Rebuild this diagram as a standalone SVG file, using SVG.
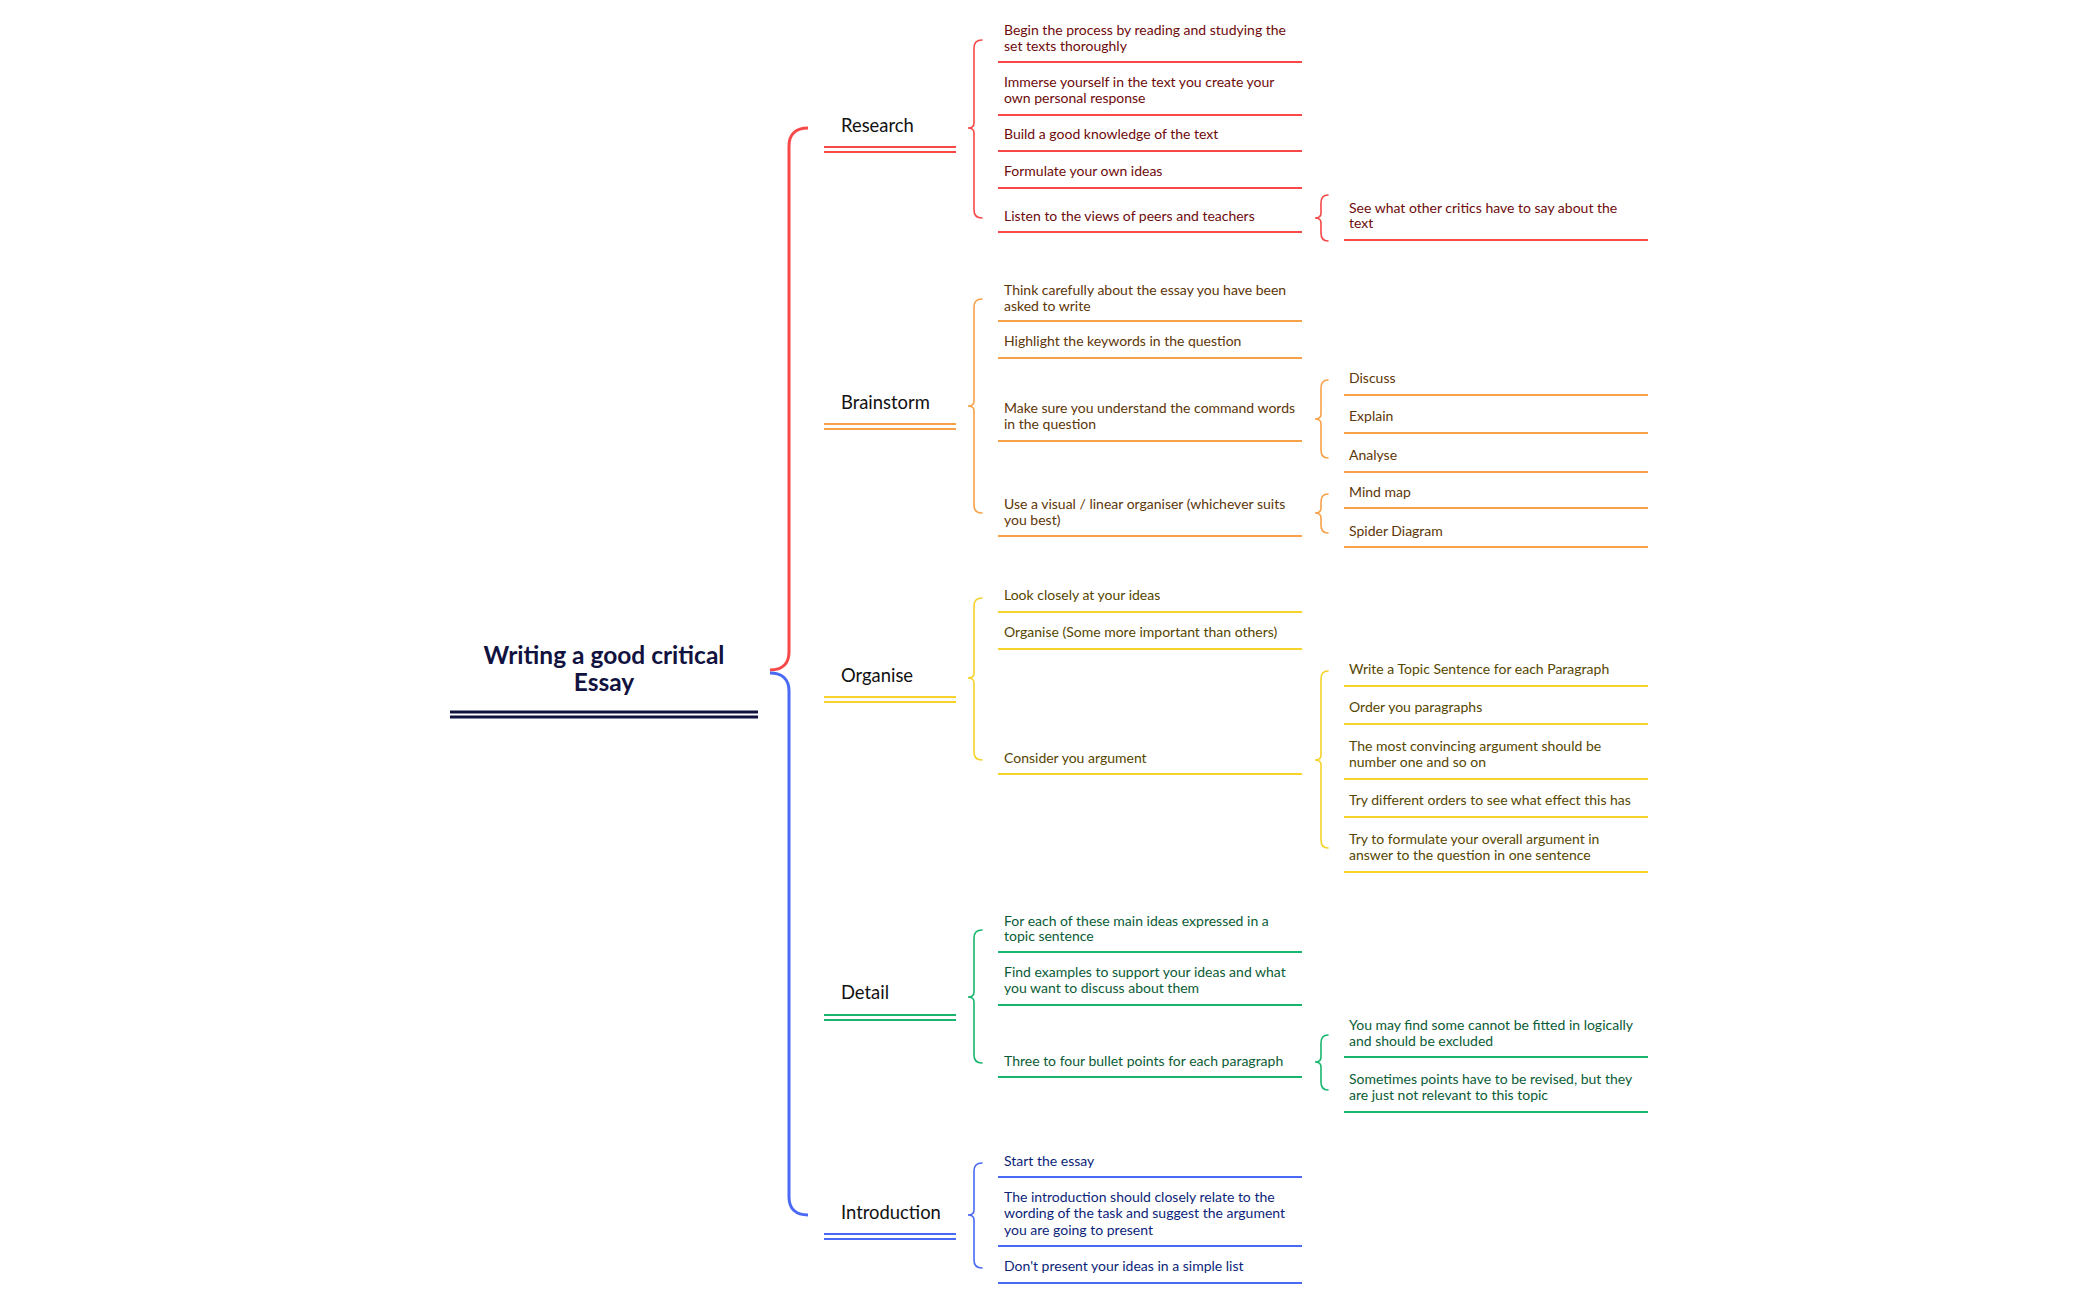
<svg xmlns="http://www.w3.org/2000/svg" width="2099" height="1300" viewBox="0 0 2099 1300">
<style>
text{font-family:Lato,"Liberation Sans",sans-serif;dominant-baseline:central}
.t2{font-size:14px;transform:translate(0,-1.5px)}
.t1{font-size:18.4px;fill:#111;transform:translate(0,-1px)}
.title{font-size:24.5px;font-weight:bold;fill:#121240;text-anchor:middle;transform:translate(0,-1.5px)}
.br{fill:none;stroke-width:1.6;stroke-linecap:round}
.ln{stroke-width:2.2}
.r .ln,.br.r{stroke:#f84848}.r text{fill:#6e0b0b}
.o .ln,.br.o{stroke:#f7a24a}.o text{fill:#5e3608}
.y .ln,.br.y{stroke:#f6d32a}.y text{fill:#564600}
.g .ln,.br.g{stroke:#18b56f}.g text{fill:#0a5c36}
.b .ln,.br.b{stroke:#4a6af5}.b text{fill:#0c1f7a}
.l1 text{fill:#111}
</style>
<g id="connectors">
<path d="M770 670 C782 670 789 664 789 652 L789 146 C789 134 796 128 808 128" fill="none" stroke="#f84848" stroke-width="3"/>
<path d="M770 673 C782 673 789 679 789 691 L789 1197 C789 1209 796 1215 808 1215" fill="none" stroke="#4a6af5" stroke-width="3"/>
<path class="br r" d="M982 40 C977 40 974 43 974 48 L974 123 C974 126 972 128 968 128 C972 128 974 130 974 133 L974 210 C974 215 977 218 982 218"/>
<path class="br o" d="M982 299 C977 299 974 302 974 307 L974 401 C974 404 972 406 968 406 C972 406 974 408 974 411 L974 505 C974 510 977 513 982 513"/>
<path class="br y" d="M982 598 C977 598 974 601 974 606 L974 673 C974 676 972 678 968 678 C972 678 974 680 974 683 L974 752 C974 757 977 760 982 760"/>
<path class="br g" d="M982 930 C977 930 974 933 974 938 L974 992 C974 995 972 997 968 997 C972 997 974 999 974 1002 L974 1055 C974 1060 977 1063 982 1063"/>
<path class="br b" d="M982 1163 C977 1163 974 1166 974 1171 L974 1210 C974 1213 972 1215 968 1215 C972 1215 974 1217 974 1220 L974 1260 C974 1265 977 1268 982 1268"/>
<path class="br r" d="M1328 195 C1323 195 1321 198 1321 203 L1321 213 C1321 216 1319 218 1315 218 C1319 218 1321 220 1321 223 L1321 233 C1321 238 1323 241 1328 241"/>
<path class="br o" d="M1328 380 C1323 380 1321 383 1321 388 L1321 414 C1321 417 1319 419 1315 419 C1319 419 1321 421 1321 424 L1321 450 C1321 455 1323 458 1328 458"/>
<path class="br o" d="M1328 494 C1323 494 1321 497 1321 502 L1321 508 C1321 511 1319 513 1315 513 C1319 513 1321 515 1321 518 L1321 525 C1321 530 1323 533 1328 533"/>
<path class="br y" d="M1328 671 C1323 671 1321 674 1321 679 L1321 755 C1321 758 1319 760 1315 760 C1319 760 1321 762 1321 765 L1321 840 C1321 845 1323 848 1328 848"/>
<path class="br g" d="M1328 1035 C1323 1035 1321 1038 1321 1043 L1321 1057 C1321 1060 1319 1062 1315 1062 C1319 1062 1321 1064 1321 1067 L1321 1082 C1321 1087 1323 1090 1328 1090"/>
</g>
<g id="title">
<text class="title" x="604" y="656">Writing a good critical</text>
<text class="title" x="604" y="683">Essay</text>
<line x1="450" y1="712" x2="758" y2="712" stroke="#121240" stroke-width="3"/>
<line x1="450" y1="717" x2="758" y2="717" stroke="#121240" stroke-width="3"/>
</g>
<g id="research" class="r l1"><text class="t1" x="841" y="126">Research</text><line class="ln" x1="824" y1="147" x2="956" y2="147"/><line class="ln" x1="824" y1="152" x2="956" y2="152"/></g>
<g id="brainstorm" class="o l1"><text class="t1" x="841" y="403">Brainstorm</text><line class="ln" x1="824" y1="424" x2="956" y2="424"/><line class="ln" x1="824" y1="429" x2="956" y2="429"/></g>
<g id="organise" class="y l1"><text class="t1" x="841" y="676">Organise</text><line class="ln" x1="824" y1="697" x2="956" y2="697"/><line class="ln" x1="824" y1="702" x2="956" y2="702"/></g>
<g id="detail" class="g l1"><text class="t1" x="841" y="993">Detail</text><line class="ln" x1="824" y1="1015" x2="956" y2="1015"/><line class="ln" x1="824" y1="1020" x2="956" y2="1020"/></g>
<g id="introduction" class="b l1"><text class="t1" x="841" y="1213">Introduction</text><line class="ln" x1="824" y1="1234" x2="956" y2="1234"/><line class="ln" x1="824" y1="1239" x2="956" y2="1239"/></g>

<g id="r1" class="r"><text class="t2" x="1004" y="31">Begin the process by reading and studying the</text><text class="t2" x="1004" y="47">set texts thoroughly</text><line class="ln" x1="998" y1="62" x2="1302" y2="62"/></g>
<g id="r2" class="r"><text class="t2" x="1004" y="83">Immerse yourself in the text you create your</text><text class="t2" x="1004" y="99">own personal response</text><line class="ln" x1="998" y1="115" x2="1302" y2="115"/></g>
<g id="r3" class="r"><text class="t2" x="1004" y="135">Build a good knowledge of the text</text><line class="ln" x1="998" y1="151" x2="1302" y2="151"/></g>
<g id="r4" class="r"><text class="t2" x="1004" y="172">Formulate your own ideas</text><line class="ln" x1="998" y1="188" x2="1302" y2="188"/></g>
<g id="r5" class="r"><text class="t2" x="1004" y="217">Listen to the views of peers and teachers</text><line class="ln" x1="998" y1="232" x2="1302" y2="232"/></g>
<g id="r5a" class="r"><text class="t2" x="1349" y="209">See what other critics have to say about the</text><text class="t2" x="1349" y="224">text</text><line class="ln" x1="1344" y1="240" x2="1648" y2="240"/></g>

<g id="b1" class="o"><text class="t2" x="1004" y="291">Think carefully about the essay you have been</text><text class="t2" x="1004" y="307">asked to write</text><line class="ln" x1="998" y1="321" x2="1302" y2="321"/></g>
<g id="b2" class="o"><text class="t2" x="1004" y="342">Highlight the keywords in the question</text><line class="ln" x1="998" y1="358" x2="1302" y2="358"/></g>
<g id="b3" class="o"><text class="t2" x="1004" y="409">Make sure you understand the command words</text><text class="t2" x="1004" y="425">in the question</text><line class="ln" x1="998" y1="441" x2="1302" y2="441"/></g>
<g id="b3a" class="o"><text class="t2" x="1349" y="379">Discuss</text><line class="ln" x1="1344" y1="395" x2="1648" y2="395"/></g>
<g id="b3b" class="o"><text class="t2" x="1349" y="417">Explain</text><line class="ln" x1="1344" y1="433" x2="1648" y2="433"/></g>
<g id="b3c" class="o"><text class="t2" x="1349" y="456">Analyse</text><line class="ln" x1="1344" y1="472" x2="1648" y2="472"/></g>
<g id="b4" class="o"><text class="t2" x="1004" y="505">Use a visual / linear organiser (whichever suits</text><text class="t2" x="1004" y="521">you best)</text><line class="ln" x1="998" y1="536" x2="1302" y2="536"/></g>
<g id="b4a" class="o"><text class="t2" x="1349" y="493">Mind map</text><line class="ln" x1="1344" y1="508" x2="1648" y2="508"/></g>
<g id="b4b" class="o"><text class="t2" x="1349" y="532">Spider Diagram</text><line class="ln" x1="1344" y1="547" x2="1648" y2="547"/></g>

<g id="o1" class="y"><text class="t2" x="1004" y="596">Look closely at your ideas</text><line class="ln" x1="998" y1="612" x2="1302" y2="612"/></g>
<g id="o2" class="y"><text class="t2" x="1004" y="633">Organise (Some more important than others)</text><line class="ln" x1="998" y1="649" x2="1302" y2="649"/></g>
<g id="o3" class="y"><text class="t2" x="1004" y="759">Consider you argument</text><line class="ln" x1="998" y1="774" x2="1302" y2="774"/></g>
<g id="o3a" class="y"><text class="t2" x="1349" y="670">Write a Topic Sentence for each Paragraph</text><line class="ln" x1="1344" y1="686" x2="1648" y2="686"/></g>
<g id="o3b" class="y"><text class="t2" x="1349" y="708">Order you paragraphs</text><line class="ln" x1="1344" y1="724" x2="1648" y2="724"/></g>
<g id="o3c" class="y"><text class="t2" x="1349" y="747">The most convincing argument should be</text><text class="t2" x="1349" y="763">number one and so on</text><line class="ln" x1="1344" y1="779" x2="1648" y2="779"/></g>
<g id="o3d" class="y"><text class="t2" x="1349" y="801">Try different orders to see what effect this has</text><line class="ln" x1="1344" y1="817" x2="1648" y2="817"/></g>
<g id="o3e" class="y"><text class="t2" x="1349" y="840">Try to formulate your overall argument in</text><text class="t2" x="1349" y="856">answer to the question in one sentence</text><line class="ln" x1="1344" y1="872" x2="1648" y2="872"/></g>

<g id="d1" class="g"><text class="t2" x="1004" y="922">For each of these main ideas expressed in a</text><text class="t2" x="1004" y="937">topic sentence</text><line class="ln" x1="998" y1="952" x2="1302" y2="952"/></g>
<g id="d2" class="g"><text class="t2" x="1004" y="973">Find examples to support your ideas and what</text><text class="t2" x="1004" y="989">you want to discuss about them</text><line class="ln" x1="998" y1="1005" x2="1302" y2="1005"/></g>
<g id="d3" class="g"><text class="t2" x="1004" y="1062">Three to four bullet points for each paragraph</text><line class="ln" x1="998" y1="1077" x2="1302" y2="1077"/></g>
<g id="d3a" class="g"><text class="t2" x="1349" y="1026">You may find some cannot be fitted in logically</text><text class="t2" x="1349" y="1042">and should be excluded</text><line class="ln" x1="1344" y1="1057" x2="1648" y2="1057"/></g>
<g id="d3b" class="g"><text class="t2" x="1349" y="1080">Sometimes points have to be revised, but they</text><text class="t2" x="1349" y="1096">are just not relevant to this topic</text><line class="ln" x1="1344" y1="1112" x2="1648" y2="1112"/></g>

<g id="i1" class="b"><text class="t2" x="1004" y="1162">Start the essay</text><line class="ln" x1="998" y1="1177" x2="1302" y2="1177"/></g>
<g id="i2" class="b"><text class="t2" x="1004" y="1198">The introduction should closely relate to the</text><text class="t2" x="1004" y="1214">wording of the task and suggest the argument</text><text class="t2" x="1004" y="1231">you are going to present</text><line class="ln" x1="998" y1="1246" x2="1302" y2="1246"/></g>
<g id="i3" class="b"><text class="t2" x="1004" y="1267">Don't present your ideas in a simple list</text><line class="ln" x1="998" y1="1283" x2="1302" y2="1283"/></g>
</svg>
